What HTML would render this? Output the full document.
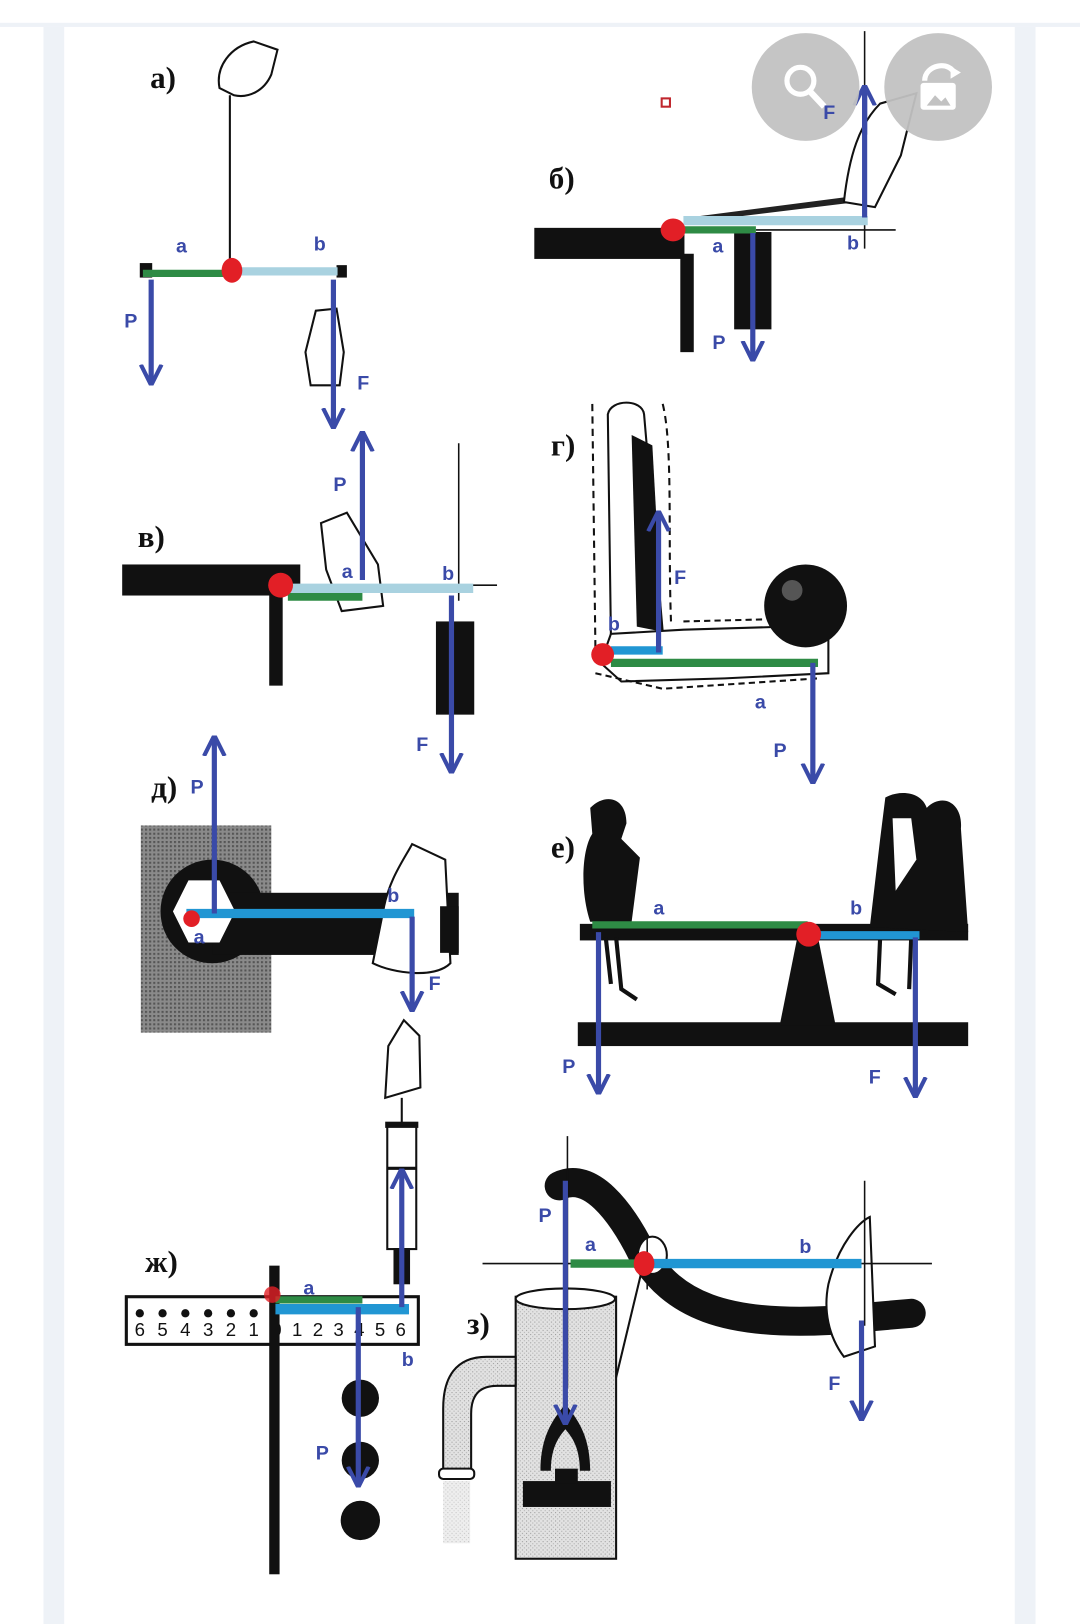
<!DOCTYPE html>
<html><head><meta charset="utf-8"><style>
html,body{margin:0;padding:0;background:#fff;width:1080px;height:1624px;overflow:hidden}
svg{display:block}
.lb{font-family:"Liberation Sans",sans-serif;font-weight:bold;font-size:19px;fill:#3a4aa8}
.tl{font-family:"Liberation Serif","DejaVu Serif",serif;font-weight:bold;font-size:30px;fill:#111}
</style></head><body>
<svg width="1080" height="1624" viewBox="0 0 1043 1568" preserveAspectRatio="none" xmlns="http://www.w3.org/2000/svg">
<defs>
<marker id="ah" viewBox="0 0 10 10" refX="8" refY="5" markerWidth="4" markerHeight="5" orient="auto" markerUnits="strokeWidth"><path d="M0,0 L10,5 L0,10" fill="none" stroke="#3a4aa8" stroke-width="2"/></marker>
<pattern id="gr" width="4" height="4" patternUnits="userSpaceOnUse"><rect width="4" height="4" fill="#8a8a8a"/><rect width="2" height="2" fill="#555"/></pattern>
<pattern id="lg" width="4" height="4" patternUnits="userSpaceOnUse"><rect width="4" height="4" fill="#e2e2e2"/><rect width="1" height="1" fill="#999"/><rect x="2" y="2" width="1" height="1" fill="#aaa"/></pattern>
</defs>
<rect width="1043" height="1568" fill="#fff"/>
<rect x="0" y="22" width="1043" height="4" fill="#eef2f7"/>
<rect x="42" y="26" width="20" height="1542" fill="#eef2f7"/>
<rect x="980" y="26" width="20" height="1542" fill="#eef2f7"/>
<g stroke-linecap="butt">
<!-- a -->
<text class="tl" x="145" y="85">а)</text>
<path d="M212,85 C208,65 222,45 245,40 L268,48 L262,72 C255,88 240,95 226,92 Z" fill="#fff" stroke="#111" stroke-width="2"/>
<line x1="222" y1="92" x2="222" y2="260" stroke="#111" stroke-width="2"/>
<rect x="135" y="254" width="12" height="14" fill="#111"/><rect x="325" y="256" width="10" height="12" fill="#111"/>
<line x1="138" y1="264" x2="222" y2="264" stroke="#2e8b45" stroke-width="7"/>
<line x1="226" y1="262" x2="326" y2="262" stroke="#a9d2e0" stroke-width="8"/>
<ellipse cx="224" cy="261" rx="10" ry="12" fill="#e21f26"/>
<path d="M305,300 L325,298 L332,340 L328,372 L300,372 L295,340 Z" fill="#fff" stroke="#111" stroke-width="2"/>
<line x1="146" y1="270" x2="146" y2="368" stroke="#3a4aa8" stroke-width="5" marker-end="url(#ah)"/>
<line x1="322" y1="270" x2="322" y2="410" stroke="#3a4aa8" stroke-width="5" marker-end="url(#ah)"/>
<text class="lb" x="170" y="244">a</text><text class="lb" x="303" y="242">b</text>
<text class="lb" x="120" y="316">P</text><text class="lb" x="345" y="376">F</text>
<!-- б -->
<text class="tl" x="530" y="182">б)</text>
<rect x="639" y="95" width="8" height="8" fill="none" stroke="#c0262d" stroke-width="2"/>
<rect x="516" y="220" width="145" height="30" fill="#111"/>
<rect x="657" y="245" width="13" height="95" fill="#111"/>
<rect x="709" y="224" width="36" height="94" fill="#111"/>
<path d="M665,210 L820,190 L820,196 L665,215 Z" fill="#222"/>
<path d="M815,195 C820,150 830,120 850,100 L885,90 L870,150 L845,200 Z" fill="#fff" stroke="#111" stroke-width="2"/>
<line x1="835" y1="30" x2="835" y2="240" stroke="#111" stroke-width="1.5"/>
<line x1="730" y1="222" x2="865" y2="222" stroke="#111" stroke-width="1.5"/>
<line x1="660" y1="222" x2="730" y2="222" stroke="#2e8b45" stroke-width="7"/>
<line x1="660" y1="213" x2="838" y2="213" stroke="#a9d2e0" stroke-width="9"/>
<ellipse cx="650" cy="222" rx="12" ry="11" fill="#e21f26"/>
<line x1="727" y1="225" x2="727" y2="345" stroke="#3a4aa8" stroke-width="5" marker-end="url(#ah)"/>
<line x1="835" y1="210" x2="835" y2="86" stroke="#3a4aa8" stroke-width="5" marker-end="url(#ah)"/>
<text class="lb" x="688" y="244">a</text><text class="lb" x="818" y="241">b</text>
<text class="lb" x="688" y="337">P</text>
<circle cx="778" cy="84" r="52" fill="#c2c2c2" opacity="0.95"/>
<circle cx="906" cy="84" r="52" fill="#c2c2c2" opacity="0.95"/>
<circle cx="773" cy="78" r="13" fill="none" stroke="#fff" stroke-width="5"/>
<line x1="782" y1="88" x2="796" y2="103" stroke="#fff" stroke-width="6"/>
<rect x="889" y="80" width="34" height="26" rx="3" fill="#fff"/>
<path d="M895,102 L903,92 L909,98 L913,94 L918,102 Z" fill="#c2c2c2"/>
<path d="M893,78 C893,62 918,58 922,72" fill="none" stroke="#fff" stroke-width="5"/>
<path d="M918,64 L928,70 L918,76 Z" fill="#fff"/>
<line x1="835" y1="90" x2="835" y2="130" stroke="#3a4aa8" stroke-width="5"/>
<text class="lb" x="795" y="115">F</text>
<!-- в -->
<text class="tl" x="133" y="528">в)</text>
<rect x="118" y="545" width="172" height="30" fill="#111"/>
<rect x="260" y="572" width="13" height="90" fill="#111"/>
<rect x="421" y="600" width="37" height="90" fill="#111"/>
<path d="M310,505 L335,495 L365,545 L370,585 L330,590 L315,550 Z" fill="#fff" stroke="#111" stroke-width="2"/>
<line x1="443" y1="428" x2="443" y2="580" stroke="#111" stroke-width="1.5"/>
<line x1="440" y1="565" x2="480" y2="565" stroke="#111" stroke-width="1.5"/>
<line x1="278" y1="576" x2="350" y2="576" stroke="#2e8b45" stroke-width="8"/>
<line x1="278" y1="568" x2="457" y2="568" stroke="#a9d2e0" stroke-width="9"/>
<circle cx="271" cy="565" r="12" fill="#e21f26"/>
<line x1="350" y1="560" x2="350" y2="420" stroke="#3a4aa8" stroke-width="5" marker-end="url(#ah)"/>
<line x1="436" y1="575" x2="436" y2="743" stroke="#3a4aa8" stroke-width="5" marker-end="url(#ah)"/>
<text class="lb" x="322" y="474">P</text><text class="lb" x="330" y="558">a</text>
<text class="lb" x="427" y="560">b</text><text class="lb" x="402" y="725">F</text>
<!-- г -->
<text class="tl" x="532" y="440">г)</text>
<path d="M572,390 L575,625 M640,390 C650,430 645,520 648,600" fill="none" stroke="#111" stroke-width="2" stroke-dasharray="7,5"/>
<path d="M587,400 C590,385 620,385 622,400 L640,610 L590,615 Z" fill="#fff" stroke="#111" stroke-width="2"/>
<path d="M610,420 L630,430 L640,610 L615,605 Z" fill="#111"/>
<path d="M580,640 L590,612 L660,608 L760,605 L800,615 L800,650 L700,655 L600,658 Z" fill="#fff" stroke="#111" stroke-width="2"/>
<path d="M575,650 L640,665 L790,655 M660,600 L740,598" fill="none" stroke="#111" stroke-width="2" stroke-dasharray="6,4"/>
<circle cx="778" cy="585" r="40" fill="#111"/>
<circle cx="765" cy="570" r="10" fill="#555"/>
<line x1="590" y1="640" x2="790" y2="640" stroke="#2e8b45" stroke-width="8"/>
<line x1="590" y1="628" x2="640" y2="628" stroke="#2196d3" stroke-width="8"/>
<circle cx="582" cy="632" r="11" fill="#e21f26"/>
<line x1="636" y1="630" x2="636" y2="497" stroke="#3a4aa8" stroke-width="5" marker-end="url(#ah)"/>
<line x1="785" y1="640" x2="785" y2="753" stroke="#3a4aa8" stroke-width="5" marker-end="url(#ah)"/>
<text class="lb" x="587" y="609">b</text><text class="lb" x="651" y="564">F</text>
<text class="lb" x="729" y="684">a</text><text class="lb" x="747" y="731">P</text>
<!-- д -->
<text class="tl" x="146" y="770">д)</text>
<rect x="136" y="797" width="126" height="200" fill="url(#gr)"/>
<circle cx="205" cy="880" r="50" fill="#111"/>
<rect x="205" y="862" width="238" height="60" fill="#111"/>
<polygon points="182,850 212,850 227,880 212,910 182,910 167,880" fill="#fff"/>
<path d="M370,880 C375,850 390,830 398,815 L430,830 L435,930 C420,945 380,940 360,930 Z" fill="#fff" stroke="#111" stroke-width="2"/>
<rect x="425" y="875" width="18" height="45" fill="#111"/>
<line x1="180" y1="882" x2="400" y2="882" stroke="#2196d3" stroke-width="9"/>
<circle cx="185" cy="887" r="8" fill="#e21f26"/>
<line x1="207" y1="882" x2="207" y2="714" stroke="#3a4aa8" stroke-width="5" marker-end="url(#ah)"/>
<line x1="398" y1="885" x2="398" y2="973" stroke="#3a4aa8" stroke-width="5" marker-end="url(#ah)"/>
<text class="lb" x="184" y="766">P</text><text class="lb" x="374" y="871">b</text>
<text class="lb" x="187" y="911">a</text><text class="lb" x="414" y="956">F</text>
<!-- е -->
<text class="tl" x="532" y="828">е)</text>
<rect x="558" y="987" width="377" height="23" fill="#111"/>
<polygon points="770,905 790,905 807,990 753,990" fill="#111"/>
<rect x="560" y="892" width="375" height="16" fill="#111"/>
<path d="M570,780 C585,765 605,770 605,795 L600,810 L618,828 L610,890 L570,890 C560,860 562,820 572,805 Z" fill="#111"/>
<path d="M595,905 L600,955 L615,965 M585,905 L590,950" fill="none" stroke="#111" stroke-width="4"/>
<path d="M855,770 C870,762 890,765 895,780 C910,765 930,775 928,800 L935,900 L840,895 L850,810 Z" fill="#111"/>
<path d="M862,790 L880,790 L885,830 L865,860 Z" fill="#fff"/>
<path d="M850,905 L848,950 L865,960 M880,905 L878,955" fill="none" stroke="#111" stroke-width="4"/>
<line x1="572" y1="893" x2="780" y2="893" stroke="#2e8b45" stroke-width="7"/>
<line x1="780" y1="903" x2="888" y2="903" stroke="#2196d3" stroke-width="8"/>
<circle cx="781" cy="902" r="12" fill="#e21f26"/>
<line x1="578" y1="900" x2="578" y2="1053" stroke="#3a4aa8" stroke-width="5" marker-end="url(#ah)"/>
<line x1="884" y1="905" x2="884" y2="1056" stroke="#3a4aa8" stroke-width="5" marker-end="url(#ah)"/>
<text class="lb" x="631" y="883">a</text><text class="lb" x="821" y="883">b</text>
<text class="lb" x="543" y="1036">P</text><text class="lb" x="839" y="1046">F</text>
<!-- ж -->
<text class="tl" x="140" y="1228">ж)</text>
<path d="M372,1060 L375,1010 L390,985 L405,1000 L406,1050 Z" fill="#fff" stroke="#111" stroke-width="2"/>
<line x1="388" y1="1060" x2="388" y2="1085" stroke="#111" stroke-width="2"/>
<rect x="372" y="1083" width="32" height="6" fill="#111"/>
<rect x="374" y="1088" width="28" height="118" fill="#fff" stroke="#111" stroke-width="2"/>
<line x1="374" y1="1128" x2="402" y2="1128" stroke="#111" stroke-width="3"/>
<rect x="380" y="1205" width="16" height="35" fill="#111"/>
<rect x="122" y="1252" width="282" height="46" fill="#fff" stroke="#111" stroke-width="3"/>
<g font-family="Liberation Sans,sans-serif" font-size="18" fill="#111">
<text x="130" y="1290">6</text><text x="152" y="1290">5</text><text x="174" y="1290">4</text><text x="196" y="1290">3</text><text x="218" y="1290">2</text><text x="240" y="1290">1</text><text x="262" y="1290">0</text><text x="282" y="1290">1</text><text x="302" y="1290">2</text><text x="322" y="1290">3</text><text x="342" y="1290">4</text><text x="362" y="1290">5</text><text x="382" y="1290">6</text>
</g>
<g fill="#111"><circle cx="135" cy="1268" r="4"/><circle cx="157" cy="1268" r="4"/><circle cx="179" cy="1268" r="4"/><circle cx="201" cy="1268" r="4"/><circle cx="223" cy="1268" r="4"/><circle cx="245" cy="1268" r="4"/></g>
<rect x="260" y="1222" width="10" height="298" fill="#111"/>
<circle cx="348" cy="1350" r="18" fill="#111"/><circle cx="348" cy="1410" r="18" fill="#111"/><circle cx="348" cy="1468" r="19" fill="#111"/>
<line x1="266" y1="1255" x2="350" y2="1255" stroke="#2e8b45" stroke-width="7"/>
<line x1="266" y1="1264" x2="395" y2="1264" stroke="#2196d3" stroke-width="10"/>
<circle cx="263" cy="1250" r="8" fill="#e21f26" opacity="0.8"/>
<line x1="388" y1="1262" x2="388" y2="1132" stroke="#3a4aa8" stroke-width="5" marker-end="url(#ah)"/>
<line x1="346" y1="1262" x2="346" y2="1432" stroke="#3a4aa8" stroke-width="5" marker-end="url(#ah)"/>
<text class="lb" x="293" y="1250">a</text><text class="lb" x="388" y="1319">b</text>
<text class="lb" x="305" y="1409">P</text>
<!-- з -->
<text class="tl" x="451" y="1288">з)</text>
<rect x="498" y="1252" width="97" height="253" fill="url(#lg)" stroke="#111" stroke-width="2"/>
<ellipse cx="546" cy="1254" rx="48" ry="10" fill="#fff" stroke="#111" stroke-width="2"/>
<path d="M498,1310 L470,1310 C440,1310 428,1330 428,1360 L428,1420 L455,1420 L455,1365 C455,1345 465,1338 480,1338 L498,1338 Z" fill="url(#lg)" stroke="#111" stroke-width="2"/>
<rect x="424" y="1418" width="34" height="10" rx="4" fill="#fff" stroke="#111" stroke-width="2"/>
<rect x="428" y="1430" width="26" height="60" fill="url(#lg)" opacity="0.6"/>
<path d="M522,1420 C522,1380 540,1365 546,1355 C552,1365 570,1380 570,1420 L560,1420 C560,1395 550,1385 546,1380 C542,1385 532,1395 532,1420 Z" fill="#111"/>
<rect x="505" y="1430" width="85" height="25" fill="#111"/>
<rect x="536" y="1418" width="22" height="14" fill="#111"/>
<line x1="595" y1="1330" x2="625" y2="1205" stroke="#111" stroke-width="2"/>
<path d="M540,1145 C570,1130 600,1170 620,1210 C650,1260 700,1280 800,1275 L880,1268" fill="none" stroke="#111" stroke-width="28" stroke-linecap="round"/>
<ellipse cx="630" cy="1212" rx="14" ry="18" fill="#fff" stroke="#111" stroke-width="2"/>
<path d="M800,1240 C810,1200 830,1180 840,1175 L845,1300 L815,1310 C800,1290 795,1265 800,1240 Z" fill="#fff" stroke="#111" stroke-width="2"/>
<line x1="466" y1="1220" x2="900" y2="1220" stroke="#111" stroke-width="1.5"/>
<line x1="548" y1="1097" x2="548" y2="1340" stroke="#111" stroke-width="1.5"/>
<line x1="835" y1="1140" x2="835" y2="1280" stroke="#111" stroke-width="1.5"/>
<line x1="625" y1="1195" x2="625" y2="1245" stroke="#111" stroke-width="1.5"/>
<line x1="551" y1="1220" x2="620" y2="1220" stroke="#2e8b45" stroke-width="8"/>
<line x1="630" y1="1220" x2="832" y2="1220" stroke="#2196d3" stroke-width="9"/>
<ellipse cx="622" cy="1220" rx="10" ry="12" fill="#e21f26"/>
<line x1="546" y1="1140" x2="546" y2="1372" stroke="#3a4aa8" stroke-width="5" marker-end="url(#ah)"/>
<line x1="832" y1="1275" x2="832" y2="1368" stroke="#3a4aa8" stroke-width="5" marker-end="url(#ah)"/>
<text class="lb" x="520" y="1180">P</text><text class="lb" x="565" y="1208">a</text>
<text class="lb" x="772" y="1210">b</text><text class="lb" x="800" y="1342">F</text>
</g>
</svg>
</body></html>
